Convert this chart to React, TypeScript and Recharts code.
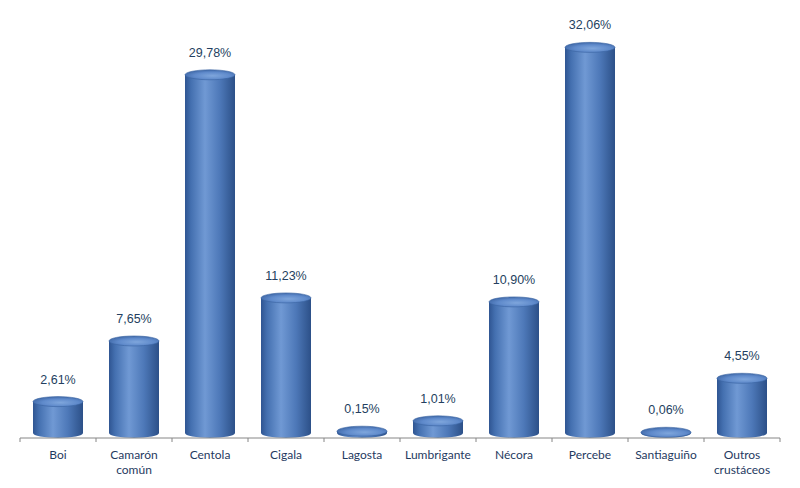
import React from 'react';
import { BarChart, Bar, XAxis, YAxis, LabelList } from 'recharts';

const categories = ['Boi', 'Camarón común', 'Centola', 'Cigala', 'Lagosta', 'Lumbrigante', 'Nécora', 'Percebe', 'Santiaguiño', 'Outros crustáceos'];
const shares = [2.61, 7.65, 29.78, 11.23, 0.15, 1.01, 10.9, 32.06, 0.06, 4.55];
const tickLines: Record<string, string[]> = {
  'Camarón común': ['Camarón', 'común'],
  'Outros crustáceos': ['Outros', 'crustáceos'],
};

const data = categories.map((c, i) => ({ name: c, value: shares[i] }));

const FONT = 'Lato, "Noto Sans", sans-serif';
const LABEL_FONT = '"Liberation Sans", Arial, sans-serif';
const RY = 5;

const Cylinder = (props: any) => {
  const { x, y, width, height } = props;
  const rx = width / 2;
  const cx = x + rx;
  const ty = y - RY;
  const by = y + height - RY;
  return (
    <g>
      <defs>
        <linearGradient id="cylBody" x1="0" y1="0" x2="1" y2="0">
          <stop offset="0%" stopColor="#2F5592" />
          <stop offset="12%" stopColor="#4470B0" />
          <stop offset="40%" stopColor="#7099D4" />
          <stop offset="70%" stopColor="#4D78B8" />
          <stop offset="100%" stopColor="#2C5088" />
        </linearGradient>
        <radialGradient id="cylTop" cx="0.55" cy="0.6" r="0.6">
          <stop offset="0%" stopColor="#7FA6DC" />
          <stop offset="60%" stopColor="#5F8ACB" />
          <stop offset="100%" stopColor="#4069A8" />
        </radialGradient>
      </defs>
      {height > 0.5 && (
        <path
          d={`M ${x},${ty} L ${x},${by} A ${rx} ${RY} 0 0 0 ${x + width},${by} L ${x + width},${ty} Z`}
          fill="url(#cylBody)"
        />
      )}
      <ellipse cx={cx} cy={ty} rx={rx} ry={RY} fill="url(#cylTop)" stroke="#3A64A3" strokeWidth={0.6} />
    </g>
  );
};

const ValueLabel = (props: any) => {
  const { x, y, width, value } = props;
  return (
    <text
      x={x + width / 2}
      y={y - RY - 22}
      textAnchor="middle"
      dominantBaseline="central"
      fontFamily={LABEL_FONT}
      fontSize={12.5}
      fill="#243F60"
    >
      {Number(value).toFixed(2).replace('.', ',') + '%'}
    </text>
  );
};

const HALF_SLOT = 38;

const Tick = (props: any) => {
  const { x, y, payload, index } = props;
  const lines = tickLines[payload.value] || [payload.value];
  return (
    <g>
      <line x1={x - HALF_SLOT} x2={x - HALF_SLOT} y1={y - 8} y2={y - 4} stroke="#868686" />
      {index === categories.length - 1 && (
        <line x1={x + HALF_SLOT} x2={x + HALF_SLOT} y1={y - 8} y2={y - 4} stroke="#868686" />
      )}
      {lines.map((l: string, i: number) => (
        <text
          key={i}
          x={x}
          y={y + 8 + i * 15}
          textAnchor="middle"
          dominantBaseline="central"
          fontFamily={FONT}
          fontSize={12}
          fill="#1F3A5F"
        >
          {l}
        </text>
      ))}
    </g>
  );
};

export default function App() {
  return (
    <div style={{ position: 'absolute', left: 0, top: 0, width: 800, height: 488, background: '#fff' }}>
      <BarChart width={800} height={488} data={data} margin={{ top: 17, right: 20, bottom: 0, left: 20 }}>
        <XAxis
          dataKey="name"
          interval={0}
          axisLine={{ stroke: '#868686' }}
          tickLine={false}
          tick={<Tick />}
          height={50}
        />
        <YAxis hide domain={[0, 35]} />
        <Bar dataKey="value" barSize={50} shape={<Cylinder />} isAnimationActive={false}>
          <LabelList dataKey="value" content={<ValueLabel />} />
        </Bar>
      </BarChart>
    </div>
  );
}
